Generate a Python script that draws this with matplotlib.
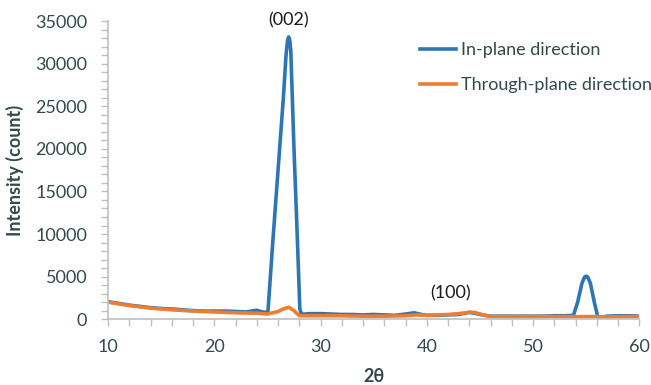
import matplotlib
matplotlib.use("Agg")
import matplotlib.pyplot as plt
from matplotlib.ticker import MultipleLocator

# In-plane direction
x_in = [10, 11, 12, 13, 14, 15, 16, 17, 18, 19, 20, 21, 22, 23, 24, 24.5, 24.9,
        25.05, 25.5, 26, 26.5, 26.75, 26.9, 27, 27.1, 27.2, 27.5, 27.8, 28.05, 28.2,
        28.5, 29, 30, 31, 32, 33, 34, 35, 36, 37, 38, 38.8, 39.5, 40, 41, 42, 43,
        44, 44.5, 45, 46, 47, 48, 49, 50, 51, 52, 53, 53.8, 54.2, 54.6, 54.85, 55,
        55.15, 55.4, 55.8, 56.1, 56.5, 57, 58, 59, 60]
y_in = [2050, 1850, 1650, 1500, 1350, 1250, 1200, 1100, 1000, 950, 950, 950, 900,
        850, 1050, 850, 800, 900, 9000, 17500, 26000, 31000, 32800, 33150, 32800,
        31500, 20000, 10000, 1200, 600, 600, 650, 650, 600, 550, 550, 500, 550, 500,
        450, 600, 750, 550, 450, 450, 500, 550, 800, 700, 550, 350, 350, 350, 350,
        350, 350, 400, 400, 450, 2000, 4200, 4950, 5050, 4950, 4200, 1800, 250, 250,
        350, 400, 400, 350]

# Through-plane direction
x_th = [10, 12, 14, 16, 18, 20, 22, 24, 25, 26, 26.5, 27, 27.5, 28, 29, 30, 32,
        34, 36, 38, 39, 40, 42, 43, 44, 44.5, 45, 46, 48, 50, 52, 54, 56, 57, 58, 60]
y_th = [2000, 1600, 1300, 1100, 950, 850, 750, 700, 600, 900, 1200, 1400, 1000,
        400, 400, 400, 400, 350, 350, 400, 500, 450, 550, 650, 800, 800, 600, 300,
        300, 300, 300, 300, 300, 250, 300, 300]

x_ticks = [10, 20, 30, 40, 50, 60]
y_ticks = [0, 5000, 10000, 15000, 20000, 25000, 30000, 35000]

txt = '#34494a'
plt.rcParams['font.family'] = ['Lato', 'DejaVu Sans']

fig = plt.figure(figsize=(6.51, 3.85), dpi=100)
ax = fig.add_axes([0.166, 0.171, 0.816, 0.774])
ax.plot(x_in, y_in, color='#2e75b6', lw=2.6, label='In-plane direction',
        solid_joinstyle='round')
ax.plot(x_th, y_th, color='#ed7d31', lw=2.6, label='Through-plane direction',
        solid_joinstyle='round')

ax.set_xlim(10, 60)
ax.set_ylim(0, 35000)
ax.set_xticks(x_ticks)
ax.set_yticks(y_ticks)
ax.xaxis.set_minor_locator(MultipleLocator(2))
ax.yaxis.set_minor_locator(MultipleLocator(1000))
for s in ['top', 'right']:
    ax.spines[s].set_visible(False)
for s in ['left', 'bottom']:
    ax.spines[s].set_color('#bfbfbf')
    ax.spines[s].set_linewidth(1.2)
ax.tick_params(which='both', color='#bfbfbf', width=1.0, labelsize=13, labelcolor=txt)
ax.tick_params(which='major', length=5)
ax.tick_params(which='minor', length=5)
ax.tick_params(axis='y', which='major', pad=10)
ax.tick_params(axis='x', which='major', pad=9)

ax.set_xlabel('2θ', fontsize=13, fontweight='bold', color=txt, labelpad=10)
ax.set_ylabel('Intensity (count)', fontsize=13, fontweight='bold', color=txt, labelpad=8)

ax.text(27, 35100, '(002)', ha='center', va='center', fontsize=13, color='#1a1a1a', clip_on=False)
ax.text(42.2, 3050, '(100)', ha='center', va='center', fontsize=13, color='#1a1a1a')

leg = ax.legend(loc='center left', bbox_to_anchor=(0.556, 0.843), frameon=False,
                fontsize=13, handlelength=2.0, handletextpad=0.28, labelspacing=1.05)
for t in leg.get_texts():
    t.set_color(txt)

fig.savefig('out.png', dpi=100)
